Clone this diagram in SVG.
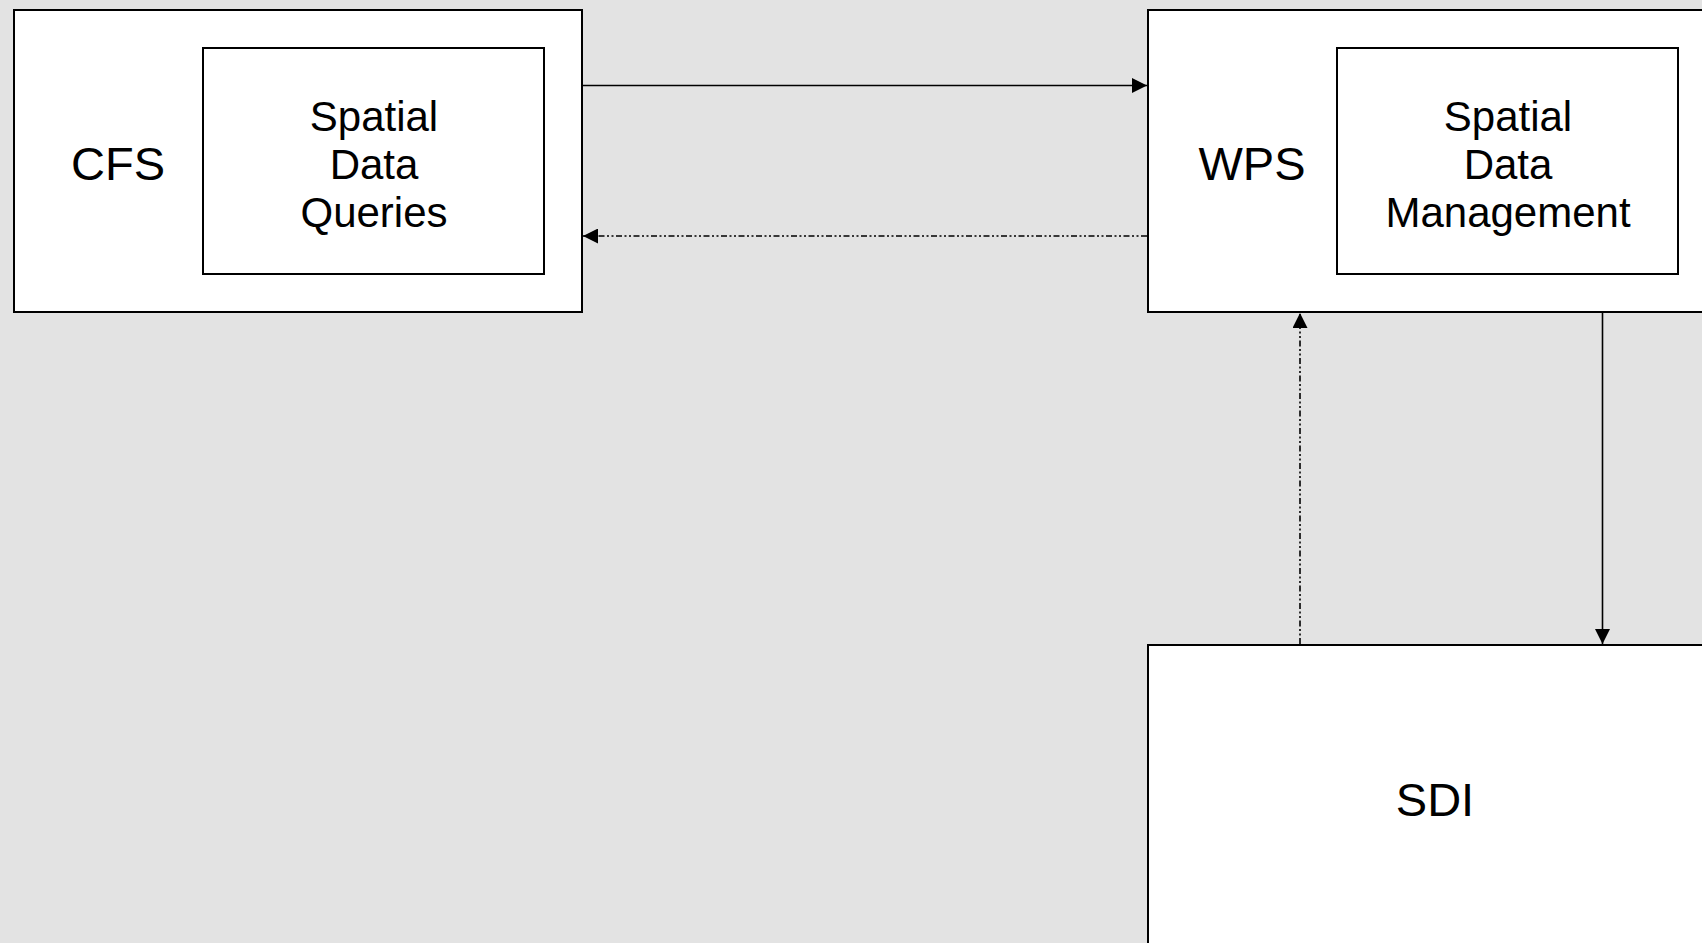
<svg xmlns="http://www.w3.org/2000/svg" width="1702" height="943" viewBox="0 0 1702 943">
  <style>
    .box { fill: #ffffff; stroke: #000000; stroke-width: 2; }
    .label { font-family: "Liberation Sans", Arial, sans-serif; font-size: 42px; fill: #000000; text-anchor: middle; }
    .title { font-size: 47px; }
    .flow { fill: none; stroke: #000000; stroke-width: 1.6; }
    .reply { fill: none; stroke: #000000; stroke-width: 1.6; stroke-dasharray: 6 2.5 2 2.5 2 2.5; }
  </style>
  <defs>
    <marker id="arrow" markerUnits="userSpaceOnUse" markerWidth="15" markerHeight="15" refX="15" refY="7.5" orient="auto">
      <path d="M0,0 L15,7.5 L0,15 z" fill="#000000"/>
    </marker>
  </defs>

  <rect x="0" y="0" width="1702" height="943" fill="#e3e3e3"/>

  <g id="cfs">
    <rect class="box" x="14" y="10" width="568" height="302"/>
    <text class="label title" x="118" y="180">CFS</text>
  </g>
  <g id="spatial-data-queries">
    <rect class="box" x="203" y="48" width="341" height="226"/>
    <text class="label" x="374" y="131">Spatial</text>
    <text class="label" x="374" y="179">Data</text>
    <text class="label" x="374" y="227">Queries</text>
  </g>

  <g id="wps">
    <rect class="box" x="1148" y="10" width="568" height="302"/>
    <text class="label title" x="1252" y="180">WPS</text>
  </g>
  <g id="spatial-data-management">
    <rect class="box" x="1337" y="48" width="341" height="226"/>
    <text class="label" x="1508" y="131">Spatial</text>
    <text class="label" x="1508" y="179">Data</text>
    <text class="label" x="1508" y="227">Management</text>
  </g>

  <g id="sdi">
    <rect class="box" x="1148" y="645" width="574" height="320"/>
    <text class="label title" x="1435" y="816">SDI</text>
  </g>

  <g id="connectors">
    <line class="flow" x1="582" y1="85.5" x2="1147" y2="85.5" marker-end="url(#arrow)"/>
    <line class="reply" x1="1147" y1="236" x2="583" y2="236" marker-end="url(#arrow)"/>
    <line class="flow" x1="1602.5" y1="313" x2="1602.5" y2="644" marker-end="url(#arrow)"/>
    <line class="reply" x1="1300" y1="644" x2="1300" y2="313" marker-end="url(#arrow)"/>
  </g>
</svg>
